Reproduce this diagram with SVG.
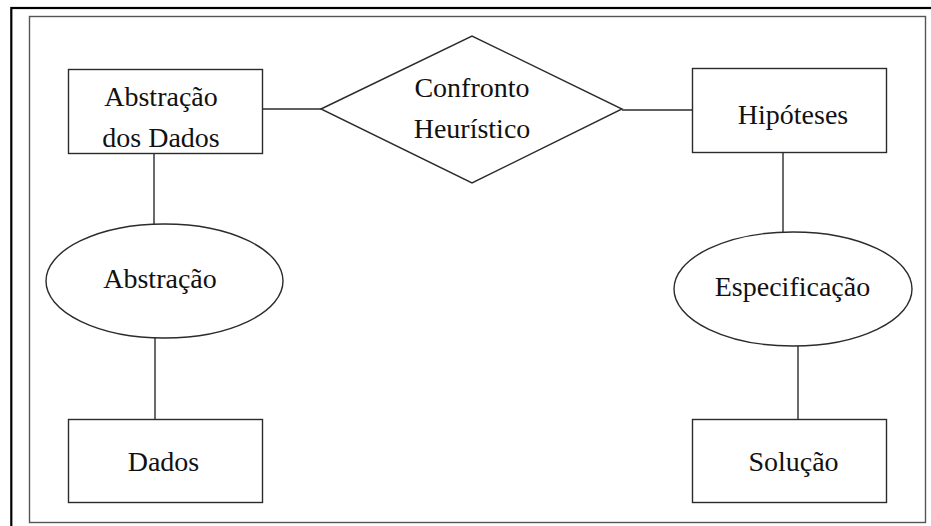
<svg xmlns="http://www.w3.org/2000/svg" width="931" height="526" viewBox="0 0 931 526">
  <style>
    .shape { fill: #ffffff; stroke: #2b2b2b; stroke-width: 1.4; }
    .link { stroke: #2b2b2b; stroke-width: 1.4; fill: none; }
    .label { font-family: "Liberation Serif", "Times New Roman", serif; font-size: 28px; fill: #111111; text-anchor: middle; }
  </style>
  <rect x="0" y="0" width="931" height="526" fill="#ffffff"/>
  <!-- frames -->
  <rect x="11.3" y="8" width="940" height="540" fill="none" stroke="#000000" stroke-width="2.2"/>
  <rect x="29.5" y="16.5" width="896" height="506" fill="none" stroke="#555555" stroke-width="1.4"/>

  <g id="connectors">
    <line class="link" x1="262" y1="109" x2="321" y2="109"/>
    <line class="link" x1="622" y1="110" x2="692" y2="110"/>
    <line class="link" x1="154" y1="153" x2="154" y2="224"/>
    <line class="link" x1="155" y1="338" x2="155" y2="419"/>
    <line class="link" x1="783" y1="152" x2="783" y2="232"/>
    <line class="link" x1="798" y1="346" x2="798" y2="419"/>
  </g>

  <g id="abstracao-dados">
    <rect class="shape" x="68.5" y="69.5" width="194" height="84"/>
    <text class="label" x="161" y="106">Abstração</text>
    <text class="label" x="161" y="147">dos Dados</text>
  </g>

  <g id="confronto">
    <polygon class="shape" points="321,109 472,36 622,109 472,183"/>
    <text class="label" x="472" y="97">Confronto</text>
    <text class="label" x="472" y="138">Heurístico</text>
  </g>

  <g id="hipoteses">
    <rect class="shape" x="692.5" y="68.5" width="194" height="84"/>
    <text class="label" x="793" y="124">Hipóteses</text>
  </g>

  <g id="abstracao">
    <ellipse class="shape" cx="164.5" cy="281" rx="118.5" ry="57"/>
    <text class="label" x="160" y="288">Abstração</text>
  </g>

  <g id="especificacao">
    <ellipse class="shape" cx="793" cy="289" rx="119" ry="57"/>
    <text class="label" x="792.5" y="296">Especificação</text>
  </g>

  <g id="dados">
    <rect class="shape" x="68.5" y="419.5" width="194" height="83"/>
    <text class="label" x="163.5" y="471">Dados</text>
  </g>

  <g id="solucao">
    <rect class="shape" x="692.5" y="419.5" width="194" height="83"/>
    <text class="label" x="793.5" y="471">Solução</text>
  </g>
</svg>
